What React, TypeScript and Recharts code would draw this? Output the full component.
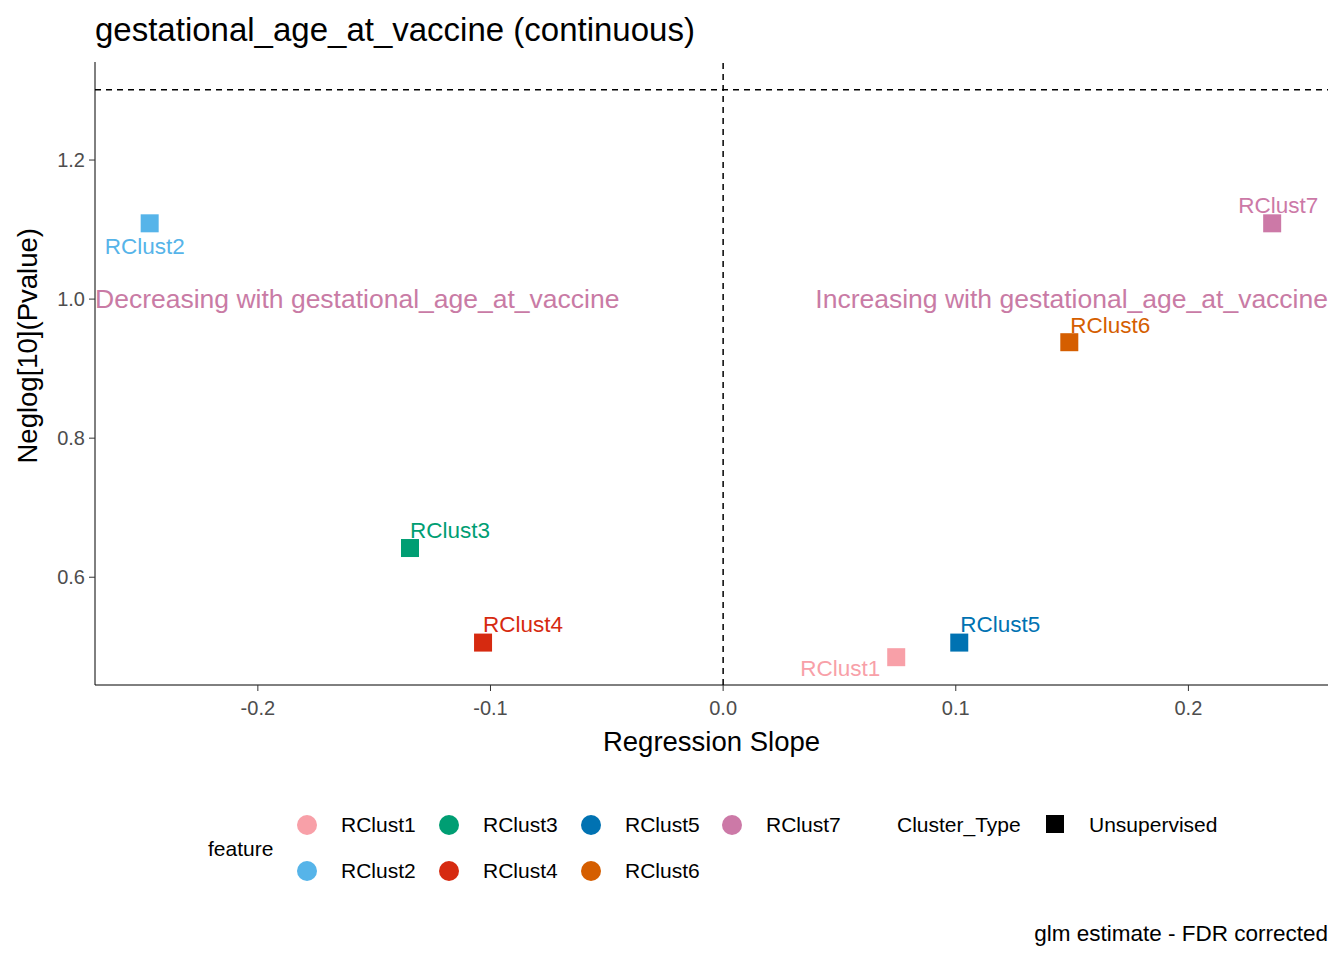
import React from "react";
import { ScatterChart, Scatter, XAxis, YAxis, ReferenceLine } from "recharts";

const names = ["RClust1", "RClust2", "RClust3", "RClust4", "RClust5", "RClust6", "RClust7"];
const slopes = [0.0744, -0.2465, -0.1346, -0.1032, 0.1015, 0.1488, 0.236];
const negLogP = [0.485, 1.109, 0.642, 0.506, 0.506, 0.938, 1.109];
const colors = ["#F8A0A8", "#56B4E9", "#009E73", "#D62A10", "#0072B2", "#D55E00", "#CC79A7"];
const xTicks = [-0.2, -0.1, 0, 0.1, 0.2];
const yTicks = [0.6, 0.8, 1.0, 1.2];
const threshold = 1.301;
const annotTexts = ["Decreasing with gestational_age_at_vaccine", "Increasing with gestational_age_at_vaccine"];
const annotX = [-0.27, 0.26];
const annotY = [1.0, 1.0];

const labelOffsets: Record<string, [number, number]> = {
  RClust1: [-56, 11], RClust2: [-5, 23], RClust3: [40, -18], RClust4: [40, -18],
  RClust5: [41, -18], RClust6: [41, -17], RClust7: [6, -18],
};

const data = names.map((n, i) => ({ name: n, x: slopes[i], y: negLogP[i], color: colors[i] }));
const annotData = annotTexts.map((t, i) => ({ text: t, x: annotX[i], y: annotY[i], anchor: i === 0 ? "start" : "end" }));
const FONT = "'Liberation Sans', Arial, sans-serif";

const Shape = (p: any) => {
  const { cx, cy, payload } = p;
  const [dx, dy] = labelOffsets[payload.name];
  return (
    <g>
      <rect x={cx - 9} y={cy - 9} width={18} height={18} fill={payload.color} />
      <text x={cx + dx} y={cy + dy} textAnchor="middle" dominantBaseline="central" fontSize={22.5} fill={payload.color} fontFamily={FONT}>{payload.name}</text>
    </g>
  );
};

const AnnotShape = (p: any) => {
  const { cx, cy, payload } = p;
  return (
    <text x={cx} y={cy} textAnchor={payload.anchor} dominantBaseline="central" fontSize={26.5} fill="#C97BA5" fontFamily={FONT}>{payload.text}</text>
  );
};

const legendItems = [
  { n: "RClust1", c: colors[0], x: 307, y: 825 }, { n: "RClust3", c: colors[2], x: 449, y: 825 },
  { n: "RClust5", c: colors[4], x: 591, y: 825 }, { n: "RClust7", c: colors[6], x: 732, y: 825 },
  { n: "RClust2", c: colors[1], x: 307, y: 871 }, { n: "RClust4", c: colors[3], x: 449, y: 871 },
  { n: "RClust6", c: colors[5], x: 591, y: 871 },
];

const txt = (s: string, x: number, y: number, size: number, extra: any = {}) => (
  <div style={{ position: "absolute", left: x, top: y - size * 0.6, fontSize: size, lineHeight: `${size * 1.2}px`, whiteSpace: "nowrap", ...extra }}>{s}</div>
);

export default function App() {
  return (
    <div style={{ position: "absolute", left: 0, top: 0, width: 1344, height: 960, background: "#fff", fontFamily: FONT, color: "#000" }}>
      <ScatterChart width={1344} height={960} margin={{ left: 35, right: 16, top: 62, bottom: 245 }}>
        <XAxis type="number" dataKey="x" domain={[-0.27, 0.26]} ticks={xTicks} allowDataOverflow height={30}
          tickFormatter={(v: number) => v.toFixed(1)} stroke="#000" tick={{ fill: "#4D4D4D", fontSize: 20, fontFamily: FONT }}
          tickLine={{ stroke: "#333" }} tickSize={6} tickMargin={10}
          label={{ value: "Regression Slope", position: "insideBottom", offset: -36, fontSize: 27.5, fill: "#000", fontFamily: FONT }} />
        <YAxis type="number" dataKey="y" domain={[0.445, 1.341]} ticks={yTicks} allowDataOverflow width={60}
          tickFormatter={(v: number) => v.toFixed(1)} stroke="#000" tick={{ fill: "#4D4D4D", fontSize: 20, fontFamily: FONT }}
          tickLine={{ stroke: "#333" }} tickSize={6} tickMargin={4}
          label={{ value: "Neglog[10](Pvalue)", angle: -90, position: "insideLeft", offset: -8, dy: 90, fontSize: 27.5, fill: "#000", fontFamily: FONT }} />
        <ReferenceLine x={0} stroke="#000" strokeDasharray="6 5" strokeWidth={1.5} />
        <ReferenceLine y={threshold} stroke="#000" strokeDasharray="6 5" strokeWidth={1.5} />
        <Scatter data={annotData} shape={AnnotShape} isAnimationActive={false} />
        <Scatter data={data} shape={Shape} isAnimationActive={false} />
      </ScatterChart>
      {txt("gestational_age_at_vaccine (continuous)", 95, 30, 33)}
      {txt("feature", 208, 849, 21)}
      {legendItems.map((it) => (
        <React.Fragment key={it.n}>
          <div style={{ position: "absolute", left: it.x - 10, top: it.y - 10, width: 20, height: 20, borderRadius: 10, background: it.c }} />
          {txt(it.n, it.x + 34, it.y, 21)}
        </React.Fragment>
      ))}
      {txt("Cluster_Type", 897, 825, 21)}
      <div style={{ position: "absolute", left: 1046, top: 815, width: 18, height: 18, background: "#000" }} />
      {txt("Unsupervised", 1089, 825, 21)}
      {txt("glm estimate - FDR corrected", 978, 933, 22.5, { width: 350, textAlign: "right" })}
    </div>
  );
}
